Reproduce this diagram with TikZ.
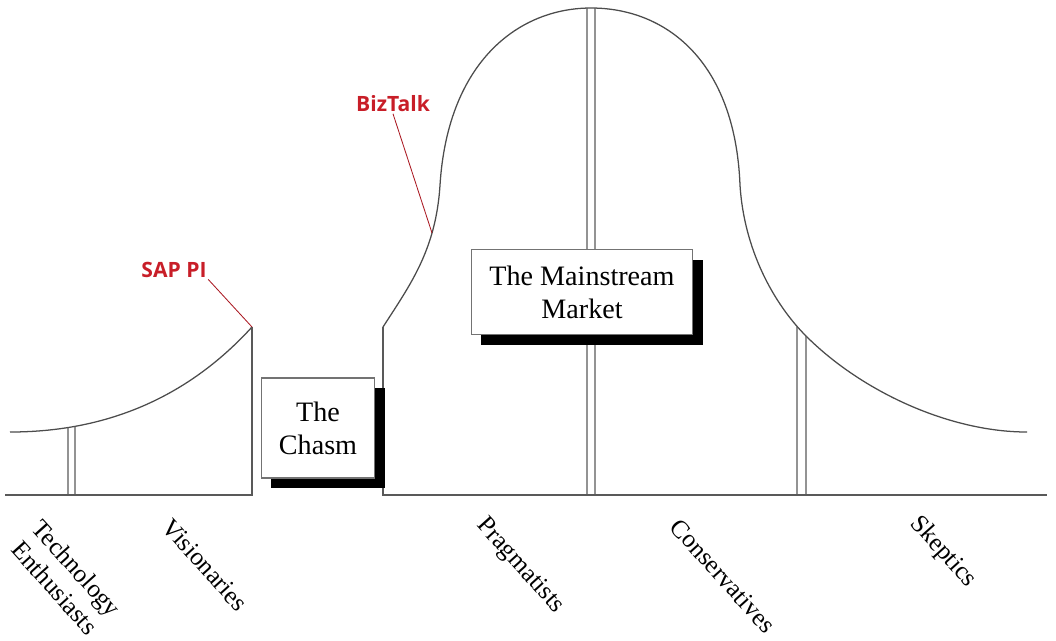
\documentclass[tikz,border=0pt]{standalone}
\usepackage{fontspec}
\setmainfont{Liberation Serif}
\newfontfamily\calloutfont{Open Sans}
\usetikzlibrary{positioning, shadows, intersections}
\definecolor{calloutred}{RGB}{200,30,40}

\begin{document}
\begin{tikzpicture}[
		x=0.025cm, y=-0.025cm,
		% Define styles
		curve/.style={draw=black!70, line width=0.9pt},
		axis/.style={draw=black!65, line width=0.9pt},
		divider/.style={draw=black!65, line width=0.8pt},
		box/.style={rectangle, draw=black!55, line width=0.9pt, fill=white, align=center,
			font=\fontsize{20}{23.5}\selectfont,
			drop shadow={shadow xshift=0.25cm, shadow yshift=-0.25cm, fill=black, opacity=1}},
		group/.style={rotate=-48, align=center, font=\fontsize{18}{21}\selectfont, inner sep=0pt},
		callout/.style={text=calloutred, font=\calloutfont\bfseries\fontsize{15}{18}\selectfont, inner sep=1pt},
		leader/.style={draw=calloutred!85!black, line width=0.6pt}
		]
		
		\useasboundingbox (0,0) rectangle (1056,640);
		
		% 1. Early market (left part of the curve)
		\coordinate (saptip) at (252,327);
		\draw[curve, name path=early] (10,432) .. controls (110,432) and (190,395) .. (saptip);
		\draw[axis] (saptip) -- (252,495) -- (5,495);
		
		% 2. Mainstream market (the bell)
		\coordinate (bellfoot) at (383,327);
		\coordinate (biztip) at (432,233);
		\draw[curve, name path=bell] (bellfoot) .. controls (410,285) and (436,250) .. (440,185)
			.. controls (448,60) and (520,8) .. (591,8)
			.. controls (665,8) and (735,60) .. (740,185)
			.. controls (744,250) and (774,304) .. (806,336)
			.. controls (862,392) and (950,432) .. (1027,432);
		\draw[axis] (bellfoot) -- (383,495) -- (1047,495);
		
		% 3. Dividers between the groups (up to the curve)
		\foreach \x/\crv/\n in {68/early/a, 75/early/b, 587/bell/c, 595/bell/d, 797/bell/e, 806/bell/f} {
			\path[name path=cut\n] (\x,0) -- (\x,495);
			\edef\cutstep{\noexpand\path[name intersections={of=cut\n\space and \crv, by=top\n}];}
			\cutstep
			\draw[divider] (top\n) -- (\x,495);
		}
		
		% 4. Boxes
		\node[box, minimum width=2.825cm, minimum height=2.5cm] (chasm) at (318,428) {The\\Chasm};
		\node[box, minimum width=5.525cm, minimum height=2.125cm] (mainstream) at (582,292) {The Mainstream\\Market};
		
		% 5. Adopter groups
		\node[group] (enthusiasts) at (66,578) {Technology\\Enthusiasts};
		\node[group] (visionaries) at (205,565) {Visionaries};
		\node[group] (pragmatists) at (520,566) {Pragmatists};
		\node[group] (conservatives) at (723,576) {Conservatives};
		\node[group] (skeptics) at (943,552) {Skeptics};
		
		% 6. Callouts
		\node[callout] (sap) at (174,270) {SAP PI};
		\node[callout] (biztalk) at (393,104) {BizTalk};
		\draw[leader] (sap.south east) -- (saptip);
		\draw[leader] (biztalk.south) -- (biztip);
		
	\end{tikzpicture}
\end{document}
